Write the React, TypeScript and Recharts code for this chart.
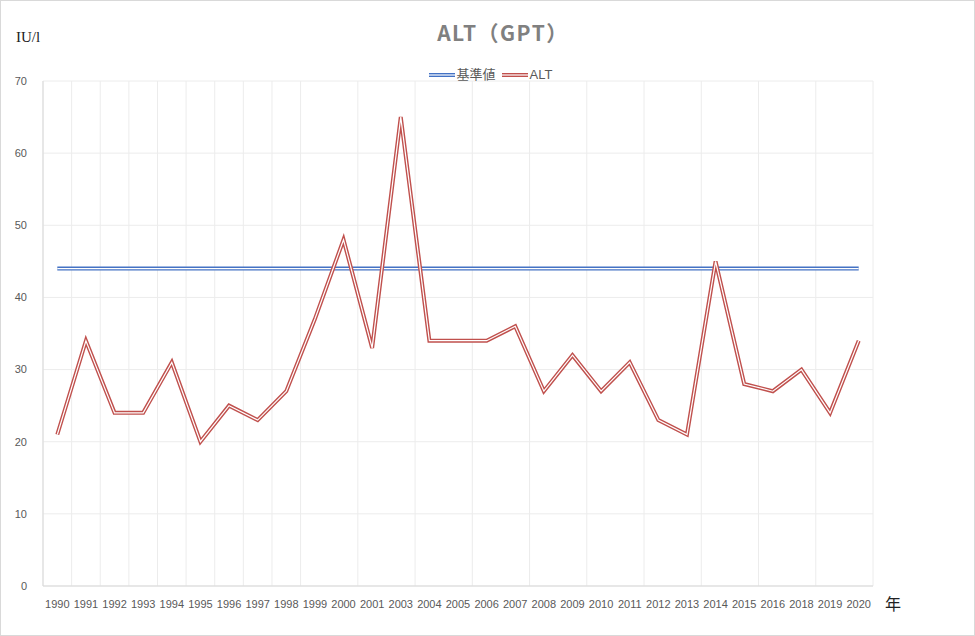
import React from 'react';
import { LineChart, Line, XAxis, YAxis, CartesianGrid } from 'recharts';

const years = [
  '1990', '1991', '1992', '1993', '1994', '1995', '1996', '1997', '1998', '1999',
  '2000', '2001', '2003', '2004', '2005', '2006', '2007', '2008', '2009', '2010',
  '2011', '2012', '2013', '2014', '2015', '2016', '2018', '2019', '2020',
];
const altValues = [
  21, 34, 24, 24, 31, 20, 25, 23, 27, 37,
  48, 33, 65, 34, 34, 34, 36, 27, 32, 27,
  31, 23, 21, 45, 28, 27, 30, 24, 34,
];
const referenceValue = 44;
const yTicks = [0, 10, 20, 30, 40, 50, 60, 70];

const RED = '#c0504d';
const BLUE = '#4472c4';
const TEXT = '#595959';
const FONT = '"Liberation Sans Narrow", "Liberation Sans", Arial, sans-serif';

const data = years.map((year, i) => ({
  idx: i,
  year,
  alt: altValues[i],
  base: referenceValue,
}));

const centerTicks = years.map((_, i) => i);
const boundaryTicks = Array.from({ length: years.length + 1 }, (_, i) => i - 0.5);

const DoubleIcon = ({ color }: { color: string }) => (
  <svg width={26} height={8} style={{ verticalAlign: 'middle', marginRight: 2 }}>
    <line x1={0} y1={4} x2={26} y2={4} stroke={color} strokeWidth={4} />
    <line x1={0} y1={4} x2={26} y2={4} stroke="#fff" strokeWidth={1.2} />
  </svg>
);

export default function App() {
  return (
    <div style={{ position: 'absolute', left: 0, top: 0, width: 975, height: 636, background: '#fff', fontFamily: FONT }}>
      <div style={{ position: 'absolute', inset: 0, border: '1px solid #d9d9d9', boxSizing: 'border-box', pointerEvents: 'none', zIndex: 2 }} />
      <div style={{ position: 'absolute', top: 17, left: 0, width: 1006, textAlign: 'center', fontSize: 21, fontWeight: 'bold', color: '#808080', letterSpacing: 1.5, fontFamily: '"Noto Sans CJK JP", sans-serif' }}>
        ALT（GPT）
      </div>
      <div style={{ position: 'absolute', top: 29, left: 16, fontSize: 15, color: '#222', fontFamily: '"Liberation Serif", serif' }}>IU/l</div>
      <div style={{ position: 'absolute', top: 591, left: 885, fontSize: 16, color: '#222', fontFamily: '"Noto Sans CJK JP", sans-serif' }}>年</div>
      <div style={{ position: 'absolute', top: 64, left: 0, width: 981, textAlign: 'center', fontSize: 13, color: TEXT, fontFamily: '"Noto Sans CJK JP", sans-serif', zIndex: 1 }}>
        <DoubleIcon color={BLUE} />
        <span style={{ marginRight: 6 }}>基準値</span>
        <DoubleIcon color={RED} />
        <span style={{ fontFamily: FONT }}>ALT</span>
      </div>
      <LineChart width={975} height={636} data={data} margin={{ top: 81, right: 102, bottom: 0, left: 0 }}>
        <CartesianGrid xAxisId="grid" stroke="#ececec" />
        <XAxis
          xAxisId="grid"
          dataKey="idx"
          type="number"
          domain={[-0.5, years.length - 0.5]}
          ticks={boundaryTicks}
          hide
        />
        <XAxis
          dataKey="idx"
          type="number"
          domain={[-0.5, years.length - 0.5]}
          ticks={centerTicks}
          interval={0}
          tickFormatter={(v: number) => years[v]}
          height={50}
          tickLine={false}
          axisLine={{ stroke: '#d9d9d9' }}
          tick={{ fill: TEXT, fontSize: 11, fontFamily: FONT }}
          tickMargin={8}
        />
        <YAxis
          domain={[0, 70]}
          ticks={yTicks}
          width={43}
          tickLine={false}
          axisLine={{ stroke: '#d9d9d9' }}
          tick={{ fill: TEXT, fontSize: 11, fontFamily: FONT }}
          tickMargin={10}
        />
        <Line dataKey="base" stroke={BLUE} strokeWidth={4} dot={false} isAnimationActive={false} />
        <Line dataKey="base" stroke="#fff" strokeWidth={1.2} dot={false} isAnimationActive={false} />
        <Line dataKey="alt" stroke={RED} strokeWidth={4} dot={false} strokeLinejoin="miter" isAnimationActive={false} />
        <Line dataKey="alt" stroke="#fff" strokeWidth={1.2} dot={false} strokeLinejoin="miter" isAnimationActive={false} />
      </LineChart>
    </div>
  );
}
